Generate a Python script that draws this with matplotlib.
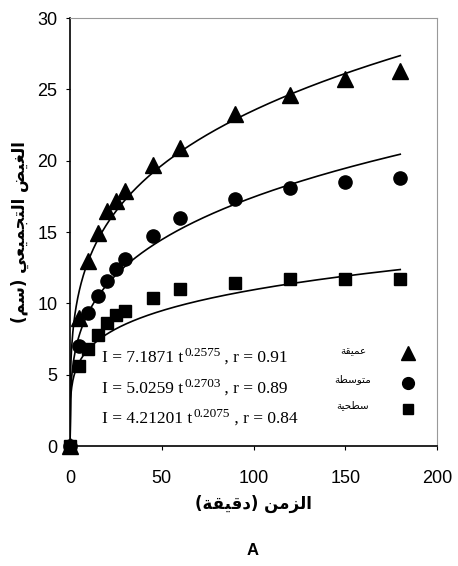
import numpy as np
import matplotlib
matplotlib.use("Agg")
import matplotlib.pyplot as plt
from matplotlib.transforms import offset_copy

# ---------------- data ----------------
time_min = [0, 5, 10, 15, 20, 25, 30, 45, 60, 90, 120, 150, 180]
deep = [0, 9.0, 13.0, 14.9, 16.5, 17.2, 17.9, 19.7, 20.9, 23.3, 24.6, 25.7, 26.3]
medium = [0, 7.0, 9.3, 10.5, 11.6, 12.4, 13.1, 14.7, 16.0, 17.3, 18.1, 18.5, 18.8]
surface = [0, 5.6, 6.8, 7.8, 8.6, 9.2, 9.5, 10.4, 11.0, 11.4, 11.7, 11.7, 11.7]

# fitted power-law coefficients shown on the chart: I = a * t^b
fit_a = [7.1871, 5.0259, 4.21201]
fit_b = [0.2575, 0.2703, 0.2075]
fit_r = [0.91, 0.89, 0.84]
fit_a_txt = ["7.1871", "5.0259", "4.21201"]

series_names = ["عميقة", "متوسطة", "سطحية"]
x_ticks = [0, 50, 100, 150, 200]
y_ticks = [0, 5, 10, 15, 20, 25, 30]
x_label = "الزمن (دقيقة)"
y_label = "الغيض التجميعي (سم)"
panel_label = "A"

# ---------------- simple Arabic shaping ----------------
FORMS = {
    'ا': ('\uFE8D', '\uFE8E', None, None),
    'ت': ('\uFE95', '\uFE96', '\uFE97', '\uFE98'),
    'ة': ('\uFE93', '\uFE94', None, None),
    'ج': ('\uFE9D', '\uFE9E', '\uFE9F', '\uFEA0'),
    'ح': ('\uFEA1', '\uFEA2', '\uFEA3', '\uFEA4'),
    'د': ('\uFEA9', '\uFEAA', None, None),
    'ز': ('\uFEAF', '\uFEB0', None, None),
    'س': ('\uFEB1', '\uFEB2', '\uFEB3', '\uFEB4'),
    'ض': ('\uFEBD', '\uFEBE', '\uFEBF', '\uFEC0'),
    'ط': ('\uFEC1', '\uFEC2', '\uFEC3', '\uFEC4'),
    'ع': ('\uFEC9', '\uFECA', '\uFECB', '\uFECC'),
    'غ': ('\uFECD', '\uFECE', '\uFECF', '\uFED0'),
    'ق': ('\uFED5', '\uFED6', '\uFED7', '\uFED8'),
    'ل': ('\uFEDD', '\uFEDE', '\uFEDF', '\uFEE0'),
    'م': ('\uFEE1', '\uFEE2', '\uFEE3', '\uFEE4'),
    'ن': ('\uFEE5', '\uFEE6', '\uFEE7', '\uFEE8'),
    'و': ('\uFEED', '\uFEEE', None, None),
    'ي': ('\uFEF1', '\uFEF2', '\uFEF3', '\uFEF4'),
}
MIRROR = {'(': ')', ')': '('}


def shape_ar(s):
    out = []
    n = len(s)
    for i, c in enumerate(s):
        if c not in FORMS:
            out.append(c)
            continue
        f = FORMS[c]
        dual = f[2] is not None
        prev = s[i - 1] if i > 0 else None
        nxt = s[i + 1] if i < n - 1 else None
        jp = prev in FORMS and FORMS[prev][2] is not None
        jn = dual and nxt in FORMS
        if jp and jn:
            out.append(f[3])
        elif jp:
            out.append(f[1])
        elif jn:
            out.append(f[2])
        else:
            out.append(f[0])
    return ''.join(MIRROR.get(ch, ch) for ch in reversed(out))


# ---------------- figure ----------------
plt.rcParams['font.family'] = ['Liberation Sans', 'DejaVu Sans']

fig = plt.figure(figsize=(4.58, 5.66), dpi=100)
ax = fig.add_axes([0.153, 0.212, 0.801, 0.756])

t = np.array(time_min, dtype=float)
markers = ['^', 'o', 's']
msizes = [11, 9.5, 8.5]
data = [deep, medium, surface]
tt = np.linspace(0, max(time_min), 600)
for k in range(3):
    ax.plot(tt, fit_a[k] * tt ** fit_b[k], color='black', lw=1.2, zorder=2)
    ax.plot(t, data[k], linestyle='none', marker=markers[k], ms=msizes[k],
            color='black', zorder=3, clip_on=False)

ax.set_xlim(0, 200)
ax.set_ylim(0, 30)
ax.set_xticks(x_ticks)
ax.set_yticks(y_ticks)
ax.tick_params(axis='both', labelsize=13, length=3, width=0.8, direction='out')
ax.tick_params(axis='x', pad=14)
ax.tick_params(axis='y', pad=6)

for side in ['top', 'right']:
    ax.spines[side].set_color('#999999')
    ax.spines[side].set_linewidth(0.8)
for side in ['left', 'bottom']:
    ax.spines[side].set_color('black')
    ax.spines[side].set_linewidth(1.2)

ax.set_xlabel(shape_ar(x_label), fontsize=12, fontweight='bold',
              family=['DejaVu Sans'], labelpad=6)
ax.set_ylabel(shape_ar(y_label), fontsize=12, fontweight='bold',
              family=['DejaVu Sans'], labelpad=6)

# legend-like annotation (equation pieces composed with a raised exponent)
row_y = [0.196, 0.124, 0.054]
lab_y = [0.222, 0.157, 0.095]
mk_y = [0.217, 0.147, 0.086]
fig.canvas.draw()
renderer = fig.canvas.get_renderer()
serif = ['Liberation Serif']
for k in range(3):
    p1 = "I = %s t" % fit_a_txt[k]
    p2 = "%.4f" % fit_b[k]
    p3 = " , r = %.2f" % fit_r[k]
    t1 = ax.text(0.087, row_y[k], p1, transform=ax.transAxes, fontsize=12.5,
                 family=serif, va='baseline', ha='left')
    w1 = t1.get_window_extent(renderer).width
    tr2 = offset_copy(ax.transAxes, fig=fig, x=w1 + 1, y=6, units='dots')
    t2 = ax.text(0.087, row_y[k], p2, transform=tr2, fontsize=9.5,
                 family=serif, va='baseline', ha='left')
    w2 = t2.get_window_extent(renderer).width
    tr3 = offset_copy(ax.transAxes, fig=fig, x=w1 + w2 + 1, y=0, units='dots')
    ax.text(0.087, row_y[k], p3, transform=tr3, fontsize=12.5,
            family=serif, va='baseline', ha='left')
    ax.text(0.771, lab_y[k], shape_ar(series_names[k]), transform=ax.transAxes,
            fontsize=7.5, family=['DejaVu Sans'], va='center', ha='center')
    ax.plot([0.921], [mk_y[k]], transform=ax.transAxes, marker=markers[k],
            ms=msizes[k] - 1, color='black', linestyle='none', clip_on=False)

fig.text(0.552, 0.028, panel_label, fontsize=12, fontweight='bold',
         ha='center', va='center')

fig.savefig('out.png', dpi=100)
